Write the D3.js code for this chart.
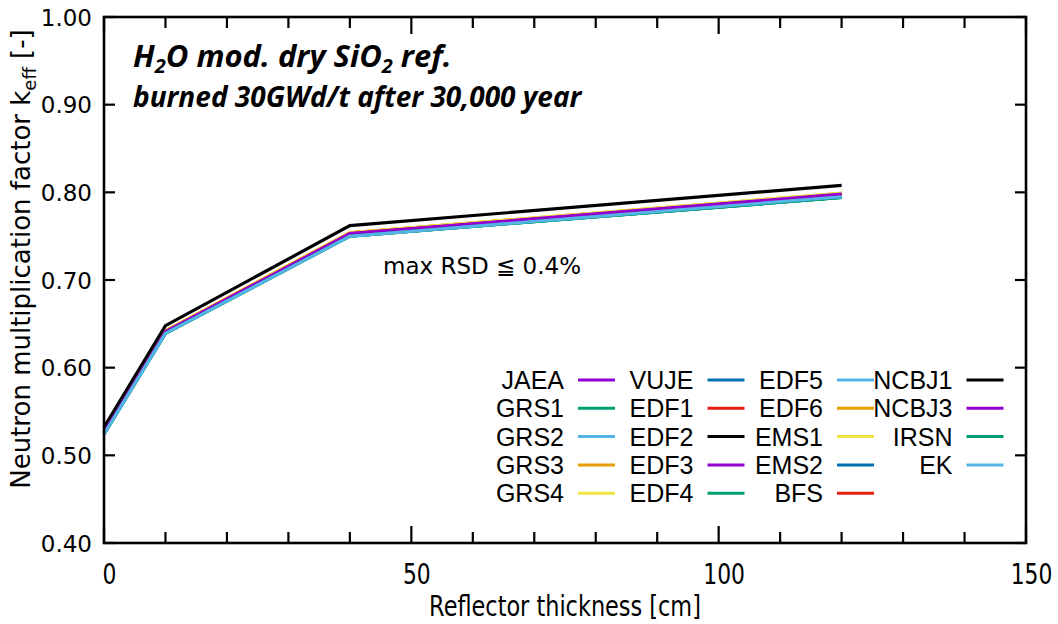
<!DOCTYPE html>
<html><head><meta charset="utf-8">
<script src="https://cdn.jsdelivr.net/npm/d3@7"></script>
<style>body{margin:0;background:#fff}</style>
</head><body>
<svg id="c" width="1058" height="624"></svg>
<script>
// ---- data ----
const thickness = [0, 10, 40, 120];
const JAEA  = [0.526, 0.641, 0.753, 0.797];
const GRS1  = [0.524, 0.639, 0.750, 0.794];
const GRS2  = [0.525, 0.640, 0.751, 0.796];
const GRS3  = [0.527, 0.642, 0.754, 0.799];
const GRS4  = [0.527, 0.642, 0.754, 0.799];
const VUJE  = [0.525, 0.640, 0.751, 0.796];
const EDF1  = [0.526, 0.641, 0.753, 0.797];
const EDF2  = [0.525, 0.640, 0.751, 0.796];
const EDF3  = [0.526, 0.641, 0.753, 0.797];
const EDF4  = [0.524, 0.639, 0.750, 0.794];
const EDF5  = [0.525, 0.640, 0.750, 0.795];
const EDF6  = [0.527, 0.642, 0.754, 0.798];
const EMS1  = [0.527, 0.642, 0.754, 0.799];
const EMS2  = [0.525, 0.640, 0.751, 0.796];
const BFS   = [0.526, 0.641, 0.753, 0.797];
const NCBJ1 = [0.532, 0.648, 0.762, 0.808];
const NCBJ3 = [0.526, 0.641, 0.753, 0.798];
const IRSN  = [0.524, 0.639, 0.750, 0.794];
const EK    = [0.524, 0.639, 0.750, 0.795];

const seriesNames = ["JAEA","GRS1","GRS2","GRS3","GRS4","VUJE","EDF1","EDF2","EDF3","EDF4",
                     "EDF5","EDF6","EMS1","EMS2","BFS","NCBJ1","NCBJ3","IRSN","EK"];
const seriesValues = [JAEA,GRS1,GRS2,GRS3,GRS4,VUJE,EDF1,EDF2,EDF3,EDF4,
                      EDF5,EDF6,EMS1,EMS2,BFS,NCBJ1,NCBJ3,IRSN,EK];
const palette = ["#9400d3","#009e73","#56b4e9","#e69f00","#f0e442","#0072b2","#e51e10","#000000"];

const xTicks = [0, 50, 100, 150];
const xMinorTicks = d3.range(0, 151, 10);
const yTicks = [0.40, 0.50, 0.60, 0.70, 0.80, 0.90, 1.00];

// ---- chart ----
const svg = d3.select("#c");
const L = 104, R = 1026, T = 17, B = 543;
const x = d3.scaleLinear().domain([0, 150]).range([L, R]);
const y = d3.scaleLinear().domain([0.40, 1.00]).range([B, T]);

// lines
const line = d3.line().x((d, i) => x(thickness[i])).y(d => y(d));
seriesValues.forEach((vals, i) => {
  const col = palette[i % palette.length];
  svg.append("path").attr("d", line(vals)).attr("fill", "none")
    .attr("stroke", col).attr("stroke-width", col === "#000000" ? 3.2 : 3)
    .attr("stroke-linejoin", "miter");
});

// ticks (mirrored, inward)
const tk = svg.append("g").attr("stroke", "#000").attr("stroke-width", 2.2);
xMinorTicks.forEach(v => {
  const len = xTicks.includes(v) ? 17 : 11;
  tk.append("line").attr("x1", x(v)).attr("x2", x(v)).attr("y1", B).attr("y2", B - len);
  tk.append("line").attr("x1", x(v)).attr("x2", x(v)).attr("y1", T).attr("y2", T + len);
});
yTicks.forEach(v => {
  tk.append("line").attr("x1", L).attr("x2", L + 11).attr("y1", y(v)).attr("y2", y(v));
  tk.append("line").attr("x1", R).attr("x2", R - 11).attr("y1", y(v)).attr("y2", y(v));
});

// frame
svg.append("rect").attr("x", L).attr("y", T).attr("width", R - L).attr("height", B - T)
  .attr("fill", "none").attr("stroke", "#000").attr("stroke-width", 2.6);

// x tick labels
const xAxis = svg.append("g").attr("transform", `translate(0,${B})`)
  .call(d3.axisBottom(x).tickValues(xTicks).tickSize(0).tickFormat(d3.format("d")));
xAxis.select(".domain").remove();
xAxis.selectAll("text")
  .attr("y", 0).attr("dy", 0)
  .attr("font-family", "DejaVu Sans").attr("font-size", 28).attr("fill", "#000")
  .attr("transform", "translate(5,41) scale(0.78,1)");

// y tick labels
const yAxis = svg.append("g").attr("transform", `translate(${L},0)`)
  .call(d3.axisLeft(y).tickValues(yTicks).tickSize(0).tickFormat(d3.format(".2f")));
yAxis.select(".domain").remove();
yAxis.selectAll("text")
  .attr("x", -12).attr("dy", "0.36em")
  .attr("font-family", "DejaVu Sans").attr("font-size", 23).attr("fill", "#000");

// axis titles
svg.append("text").attr("transform", `translate(${(L + R) / 2},616) scale(0.8,1)`)
  .attr("text-anchor", "middle").attr("font-family", "DejaVu Sans").attr("font-size", 28)
  .text("Reflector thickness [cm]");

const yt = svg.append("text").attr("transform", "translate(30,259) rotate(-90)")
  .attr("text-anchor", "middle").attr("font-family", "DejaVu Sans").attr("font-size", 26);
yt.append("tspan").text("Neutron multiplication factor k");
yt.append("tspan").attr("font-size", 18).attr("dy", 6).text("eff");
yt.append("tspan").attr("dy", -6).text(" [-]");

// title
const t1 = svg.append("text").attr("x", 133).attr("y", 67)
  .attr("font-family", "Open Sans").attr("font-weight", "bold").attr("font-style", "italic")
  .attr("font-size", 31);
t1.append("tspan").text("H");
t1.append("tspan").attr("font-size", 20).attr("dy", 6).text("2");
t1.append("tspan").attr("dy", -6).text("O mod. dry SiO");
t1.append("tspan").attr("font-size", 20).attr("dy", 6).text("2");
t1.append("tspan").attr("dy", -6).text(" ref.");

svg.append("text").attr("x", 133).attr("y", 107)
  .attr("font-family", "Open Sans").attr("font-weight", "bold").attr("font-style", "italic")
  .attr("font-size", 28).text("burned 30GWd/t after 30,000 year");

// annotation
svg.append("text").attr("x", 383).attr("y", 274)
  .attr("font-family", "DejaVu Sans").attr("font-size", 23).text("max RSD \u2266 0.4%");

// legend
const colRight = [564, 693.5, 823, 952.5];
const rowY0 = 380, rowStep = 28.3;
const lg = svg.append("g");
seriesNames.forEach((name, i) => {
  const c = Math.floor(i / 5), r = i % 5;
  const yy = rowY0 + r * rowStep;
  lg.append("text").attr("x", colRight[c]).attr("y", yy).attr("dy", "0.36em")
    .attr("text-anchor", "end").attr("font-family", "Liberation Sans").attr("font-size", 25)
    .text(name);
  lg.append("line").attr("x1", colRight[c] + 14).attr("x2", colRight[c] + 51)
    .attr("y1", yy).attr("y2", yy)
    .attr("stroke", palette[i % palette.length]).attr("stroke-width", 3);
});
</script>
</body></html>
